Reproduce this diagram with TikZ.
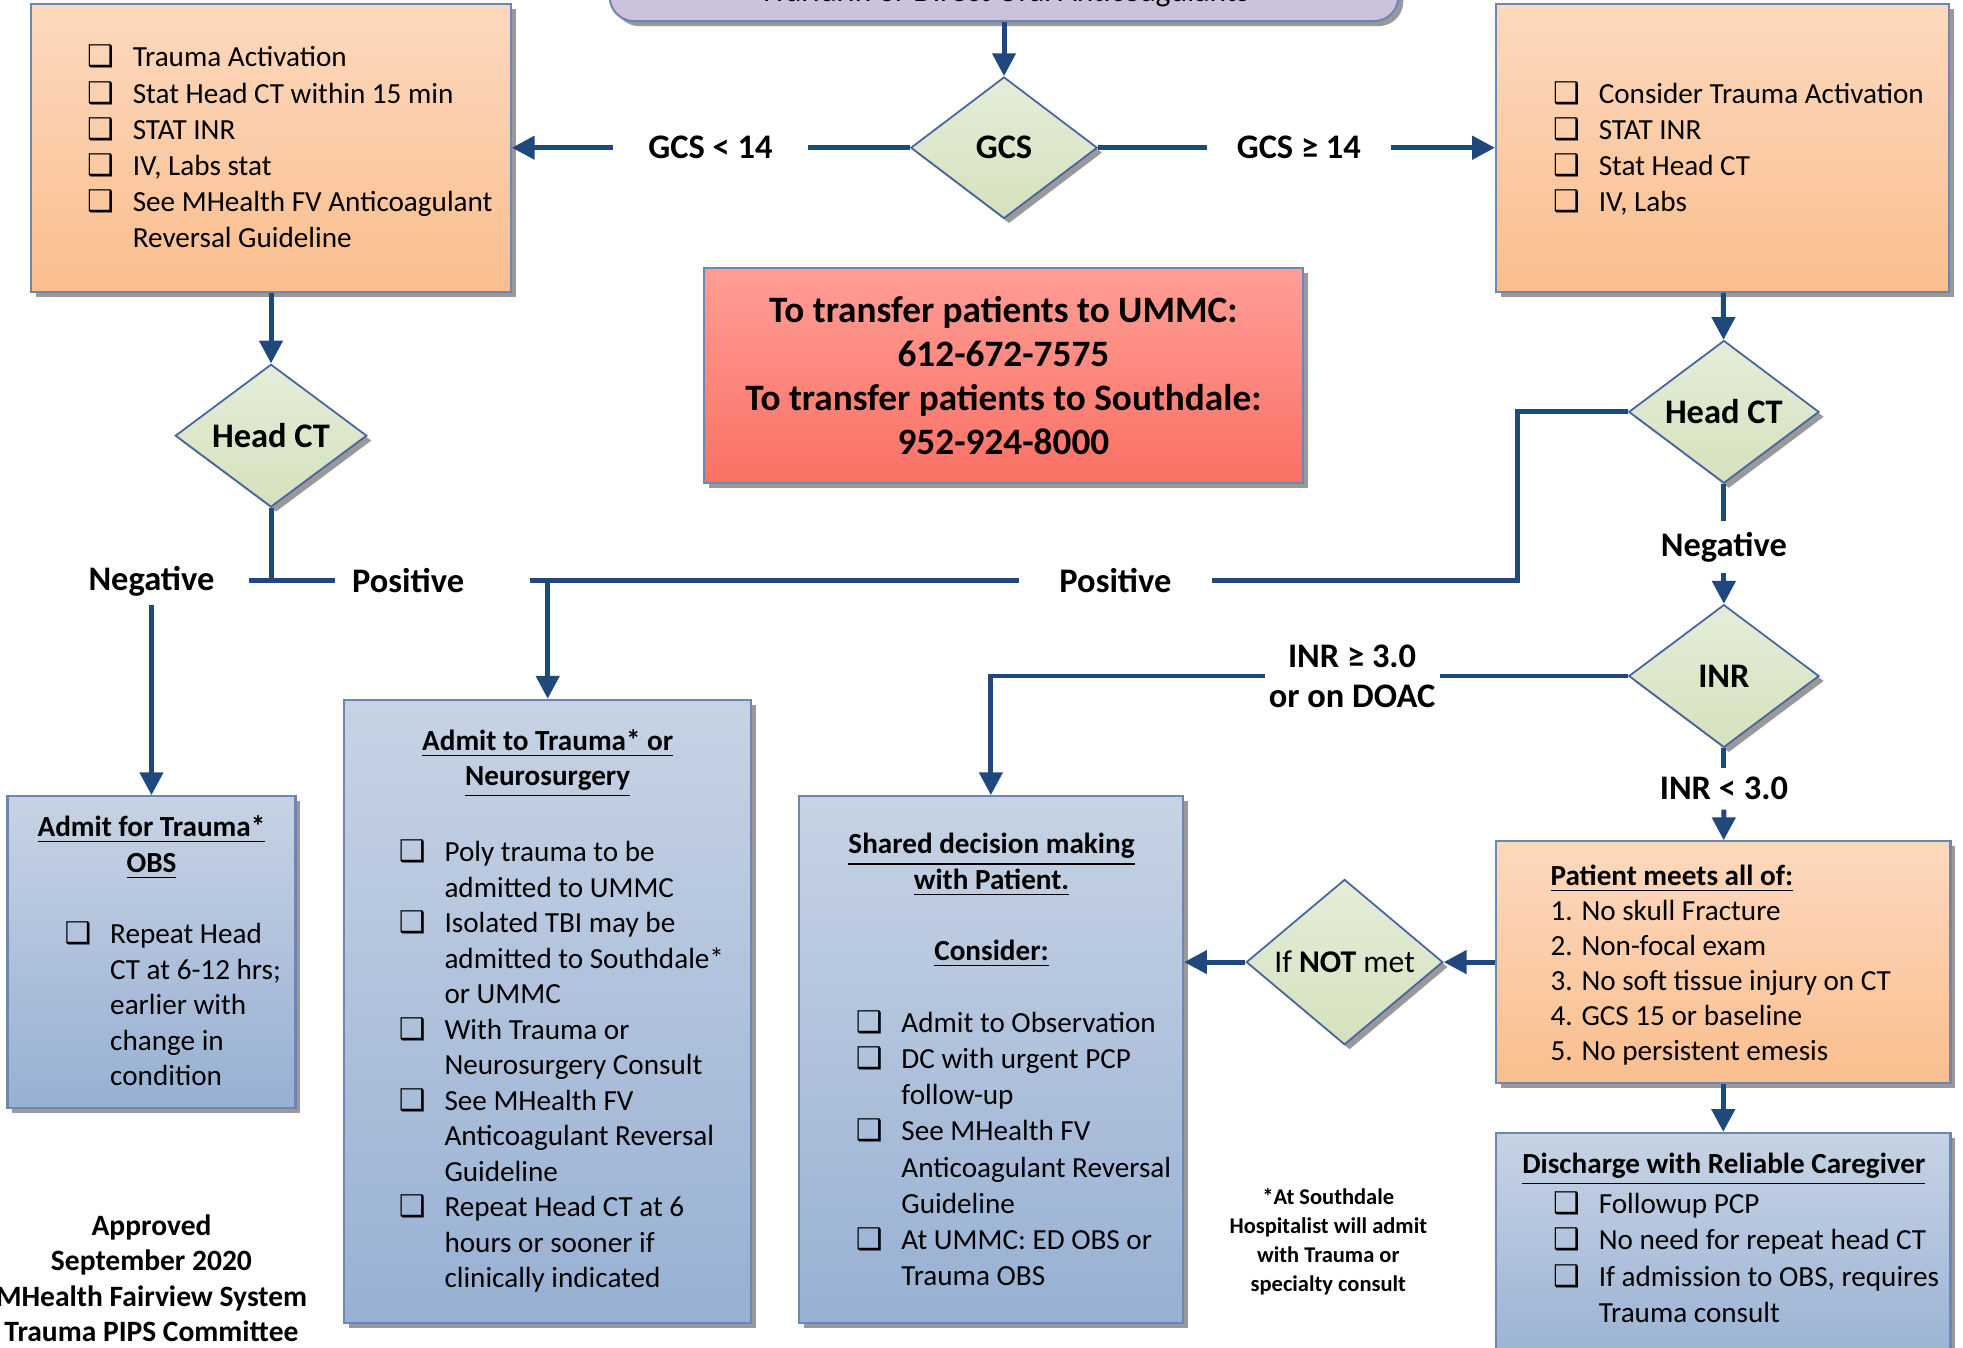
\documentclass[tikz,border=0pt]{standalone}
\usepackage{fontspec}
\setmainfont{Carlito}
\newfontfamily\boxfont{DejaVu Sans}
\usetikzlibrary{shapes.geometric,arrows.meta,shadows}

\definecolor{linkblue}{RGB}{31,73,125}
\definecolor{edgeblue}{RGB}{110,134,180}
\definecolor{diamondedge}{RGB}{70,100,160}
\definecolor{orangeT}{RGB}{252,217,190}
\definecolor{orangeB}{RGB}{250,190,142}
\definecolor{blueT}{RGB}{199,211,229}
\definecolor{blueB}{RGB}{151,176,211}
\definecolor{redT}{RGB}{255,158,150}
\definecolor{redB}{RGB}{250,112,100}
\definecolor{greenT}{RGB}{229,237,216}
\definecolor{greenB}{RGB}{213,225,189}
\definecolor{lilac}{RGB}{205,194,219}

\def\px{0.3562pt}
\newcommand\cbx{{\boxfont\bfseries\fontsize{8.5}{8.5}\selectfont ❑}}
\newcommand\cklist[1]{\begin{tabular}{@{}p{13pt}@{}l@{}}#1\end{tabular}}

\tikzset{
  every node/.style={inner sep=0pt},
  shade box/.style={draw=edgeblue, line width=0.6pt,
    drop shadow={shadow xshift=1.4pt, shadow yshift=-1.4pt, fill=black!40, opacity=1}},
  orangebox/.style={shade box, top color=orangeT, bottom color=orangeB},
  bluebox/.style={shade box, top color=blueT, bottom color=blueB},
  redbox/.style={shade box, top color=redT, bottom color=redB},
  startbox/.style={shade box, fill=lilac, rounded corners=7pt},
  decide/.style={diamond, draw=diamondedge, line width=0.5pt, top color=greenT, bottom color=greenB,
    drop shadow={shadow xshift=1.4pt, shadow yshift=-1.4pt, fill=black!40, opacity=1},
    font=\fontsize{9.8}{11.4}\selectfont\bfseries},
  lbl/.style={font=\fontsize{9.8}{11.4}\selectfont\bfseries, inner xsep=1pt, inner ysep=2.5pt},
  list/.style={font=\fontsize{8.3}{10.3}\selectfont, anchor=west},
  heading/.style={font=\fontsize{8.3}{10.1}\selectfont\bfseries, align=center},
  link/.style={draw=linkblue, line width=1.4pt},
  arr/.style={link, -{Triangle[length=6.5pt,width=6.5pt]}},
}

\begin{document}
\begin{tikzpicture}[x=\px,y=-\px]
\fill[white] (0,0) rectangle (1568,1076);
\useasboundingbox (0,0) rectangle (1568,1076);

\node[startbox, anchor=base, minimum width=630*\px, text height=13.5pt, text depth=5.5pt,
  font=\fontsize{9}{11}\selectfont] (start) at (802,1.5) {Warfarin or Direct Oral Anticoagulants};
\node[decide, minimum width=149*\px, minimum height=113*\px] (gcs) at (802,118) {GCS};

\node[orangebox, minimum width=383*\px, minimum height=230*\px] (actL) at (216.5,118) {};
\node[list] (actLtxt) at (69,120) {\cklist{\cbx & Trauma Activation\\ \cbx & Stat Head CT within 15 min\\
  \cbx & STAT INR\\ \cbx & IV, Labs stat\\ \cbx & See MHealth FV Anticoagulant\\ & Reversal Guideline}};
\node[orangebox, minimum width=362*\px, minimum height=230*\px] (actR) at (1376,118) {};
\node[list] (actRtxt) at (1240,120) {\cklist{\cbx & Consider Trauma Activation\\ \cbx & STAT INR\\
  \cbx & Stat Head CT\\ \cbx & IV, Labs}};
\node[lbl, inner xsep=9.8pt] (gcsLow) at (567.5,118) {GCS < 14};
\node[lbl, inner xsep=8.4pt] (gcsHigh) at (1037.5,118) {GCS ≥ 14};

\node[redbox, minimum width=479*\px, minimum height=172*\px, align=center,
  font=\fontsize{10.6}{12.6}\selectfont\bfseries] (transfer) at (801.5,300)
  {To transfer patients to UMMC:\\612-672-7575\\To transfer patients to Southdale:\\952-924-8000};

\node[decide, minimum width=153*\px, minimum height=114*\px] (ctL) at (216.5,348) {Head CT};
\node[lbl, inner xsep=9.6pt] (negL) at (121,464) {Negative};
\node[lbl, inner xsep=4.8pt] (posL) at (326,464) {Positive};
\node[lbl, inner xsep=11.4pt] (posR) at (891,464) {Positive};
\coordinate (bus) at (423,464);

\node[bluebox, minimum width=230*\px, minimum height=249*\px] (obs) at (121,760.5) {};
\node[heading] (obsHead) at (121,677) {\underline{Admit for Trauma*}\\\underline{OBS}};
\node[list, font=\fontsize{8.3}{10.1}\selectfont] (obsTxt) at (51,805) {\cklist{\cbx & Repeat Head\\
  & CT at 6-12 hrs;\\ & earlier with\\ & change in\\ & condition}};

\node[bluebox, minimum width=325*\px, minimum height=498*\px] (adm) at (437.5,808) {};
\node[heading] (admHead) at (437.5,610) {\underline{Admit to Trauma* or}\\\underline{Neurosurgery}};
\node[list, font=\fontsize{8.3}{10.1}\selectfont] (admTxt) at (318,853) {\cklist{\cbx & Poly trauma to be\\
  & admitted to UMMC\\ \cbx & Isolated TBI may be\\ & admitted to Southdale*\\ & or UMMC\\
  \cbx & With Trauma or\\ & Neurosurgery Consult\\ \cbx & See MHealth FV\\ & Anticoagulant Reversal\\
  & Guideline\\ \cbx & Repeat Head CT at 6\\ & hours or sooner if\\ & clinically indicated}};

\node[bluebox, minimum width=307*\px, minimum height=421*\px] (sdm) at (791.5,846.5) {};
\node[heading] (sdmHead) at (792,691) {\underline{Shared decision making}\\\underline{with Patient.}};
\node[heading] (sdmCons) at (792,762) {\underline{Consider:}};
\node[list] (sdmTxt) at (683,920) {\cklist{\cbx & Admit to Observation\\ \cbx & DC with urgent PCP\\
  & follow-up\\ \cbx & See MHealth FV\\ & Anticoagulant Reversal\\ & Guideline\\
  \cbx & At UMMC: ED OBS or\\ & Trauma OBS}};

\node[decide, minimum width=152*\px, minimum height=114*\px] (ctR) at (1377,329) {Head CT};
\node[lbl, inner ysep=3pt] (negR) at (1377,437) {Negative};
\node[decide, minimum width=152*\px, minimum height=114*\px] (inr) at (1377,540) {INR};
\node[lbl, align=center] (inrHigh) at (1080,540) {INR ≥ 3.0\\or on DOAC};
\node[lbl] (inrLow) at (1377,630) {INR < 3.0};

\node[orangebox, minimum width=363*\px, minimum height=193*\px] (meets) at (1376.5,768.5) {};
\node[list, align=left, font=\fontsize{8.3}{10}\selectfont] (meetsTxt) at (1238,771)
  {\textbf{\underline{Patient meets all of:}}\\1. No skull Fracture\\2. Non-focal exam\\
  3. No soft tissue injury on CT\\4. GCS 15 or baseline\\5. No persistent emesis};
\node[decide, minimum width=157*\px, minimum height=132*\px, font=\fontsize{9}{11}\selectfont]
  (notmet) at (1074,768.5) {If \textbf{NOT} met};

\node[bluebox, minimum width=363*\px, minimum height=195*\px] (dc) at (1376.5,1002.5) {};
\node[heading] (dcHead) at (1377,934) {\underline{Discharge with Reliable Caregiver}};
\node[list] (dcTxt) at (1240,1007) {\cklist{\cbx & Followup PCP\\ \cbx & No need for repeat head CT\\
  \cbx & If admission to OBS, requires\\ & Trauma consult}};

\node[font=\fontsize{8.4}{10}\selectfont\bfseries, align=center] (approved) at (121,1021)
  {Approved\\September 2020\\MHealth Fairview System\\Trauma PIPS Committee};
\node[font=\fontsize{6.4}{8.2}\selectfont\bfseries, align=center] (southdale) at (1061,992)
  {*At Southdale\\Hospitalist will admit\\with Trauma or\\specialty consult};

\draw[arr] (start) -- (gcs);
\draw[link] (gcs) -- (gcsLow);
\draw[arr] (gcsLow) -- (actL);
\draw[link] (gcs) -- (gcsHigh);
\draw[arr] (gcsHigh) -- (actR);
\draw[arr] (actL) -- (ctL);
\draw[link] (ctL.south) -- (ctL.south |- negL.east);
\draw[link] (negL.east) -- (posL.west);
\draw[arr] (negL) -- (obs);
\draw[link] (bus) -- (posR.west);
\draw[arr] (bus -| adm.north) -- (adm.north);
\draw[link] (ctR.west) -- ++(-88,0) |- (posR.east);
\draw[arr] (actR) -- (ctR);
\draw[link] (ctR) -- (negR);
\draw[arr] (negR) -- (inr);
\draw[link] (inr) -- (inrHigh);
\draw[arr] (inrHigh.west) -| (sdm.north);
\draw[link] (inr) -- (inrLow);
\draw[arr] (inrLow) -- (meets);
\draw[arr] (meets.west) -- (notmet.east);
\draw[arr] (notmet.west) -- (notmet.west -| sdm.east);
\draw[arr] (meets) -- (dc);
\end{tikzpicture}
\end{document}
